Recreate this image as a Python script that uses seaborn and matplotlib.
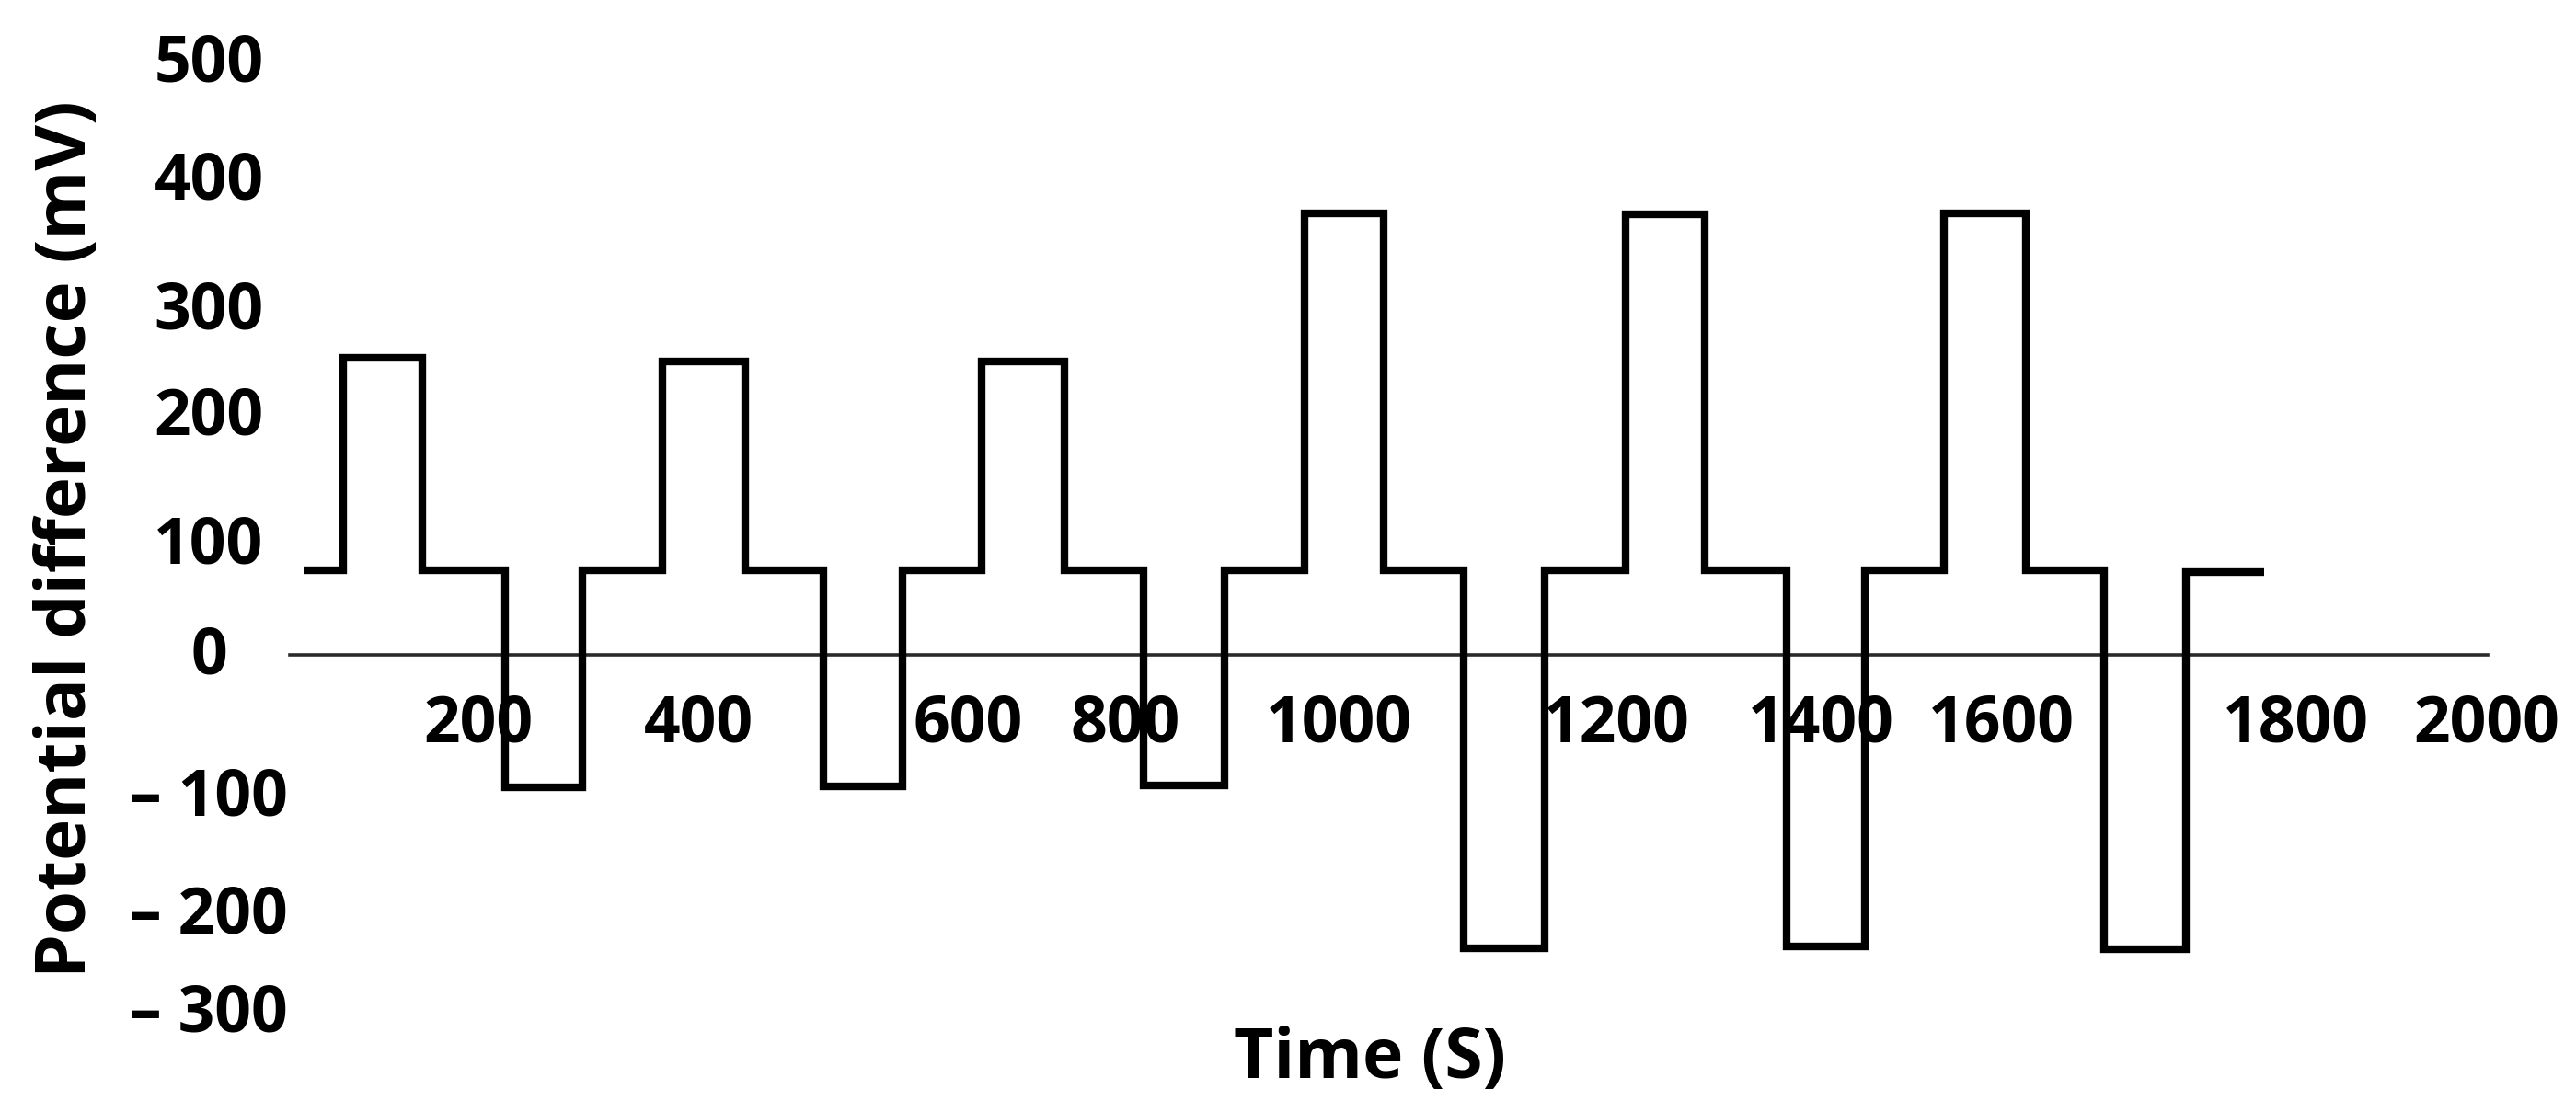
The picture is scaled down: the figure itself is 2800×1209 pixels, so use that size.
import matplotlib
matplotlib.use("Agg")
import matplotlib.pyplot as plt
import seaborn as sns
import pandas as pd

# ---- data ----
# times (s) at which the potential changes level; last value = end of record
change_times = [44, 79, 150, 224, 294, 365, 440, 510, 581, 652, 726, 797, 869,
                941, 1012, 1084, 1156, 1229, 1300, 1373, 1443, 1514, 1588, 1658,
                1731, 1801]
# potential difference (mV) held from each change time to the next one
levels_mv = [71, 250, 71, -112, 71, 247, 71, -111, 71, 247, 71, -110, 71,
             372, 71, -247, 71, 371, 71, -246, 71, 372, 71, -248, 70]

# tick labels as printed, and where they sit on the chart
xtick_labels = ["200", "400", "600", "800", "1000", "1200", "1400", "1600", "1800", "2000"]
xtick_pos = [200, 398, 639, 780, 972, 1221, 1404, 1566, 1830, 2001]
ytick_labels = ["500", "400", "300", "200", "100", "0", "– 100", "– 200", "– 300"]
ytick_pos = [504, 405, 295, 206, 98, 5, -115, -214, -297]

x_title = "Time (S)"
y_title = "Potential difference (mV)"

# ---- build frame ----
df = pd.DataFrame({
    "time": change_times,
    "mv": levels_mv + [levels_mv[-1]],
})

sns.set_theme(style="white")
plt.rcParams["font.family"] = ["Open Sans", "DejaVu Sans"]

W, H, DPI = 2800, 1209, 100
fig = plt.figure(figsize=(W / DPI, H / DPI), dpi=DPI)
L_px, R_px, T_px, B_px = 315, 2704, 20, 1120
ax = fig.add_axes([L_px / W, 1 - B_px / H, (R_px - L_px) / W, (B_px - T_px) / H])

sns.lineplot(data=df, x="time", y="mv", ax=ax, drawstyle="steps-post",
             color="black", linewidth=6.0, estimator=None,
             solid_joinstyle="miter", solid_capstyle="butt")

ax.set_xlim(31.34, 2001.8)
ax.set_ylim(-316.3, 536.4)

for s in ["top", "right", "left"]:
    ax.spines[s].set_visible(False)
ax.spines["bottom"].set_position(("data", 0))
ax.spines["bottom"].set_color("#2b2b2b")
ax.spines["bottom"].set_linewidth(2.6)
ax.spines["bottom"].set_zorder(1)

ax.set_xticks(xtick_pos, xtick_labels)
ax.set_yticks(ytick_pos, ytick_labels)
ax.tick_params(axis="both", length=0, labelsize=50, labelcolor="black")
ax.tick_params(axis="y", pad=63.4)
ax.tick_params(axis="x", pad=30)
for t in ax.get_yticklabels():
    t.set_horizontalalignment("center")
    t.set_fontweight("bold")
for t in ax.get_xticklabels():
    t.set_fontweight("bold")
ax.grid(False)

ax.set_xlabel(x_title, fontsize=54, fontweight="bold", color="black")
ax.set_ylabel(y_title, fontsize=55, fontweight="bold", color="black")
ax.xaxis.set_label_coords((1489 - L_px) / (R_px - L_px), (B_px - 1152) / (B_px - T_px))
ax.xaxis.label.set_verticalalignment("center")
ax.yaxis.set_label_coords((74 - L_px) / (R_px - L_px), (B_px - 586) / (B_px - T_px))
ax.yaxis.label.set_verticalalignment("center")
ax.yaxis.label.set_horizontalalignment("center")

fig.savefig("out.png", dpi=DPI, facecolor="white")
